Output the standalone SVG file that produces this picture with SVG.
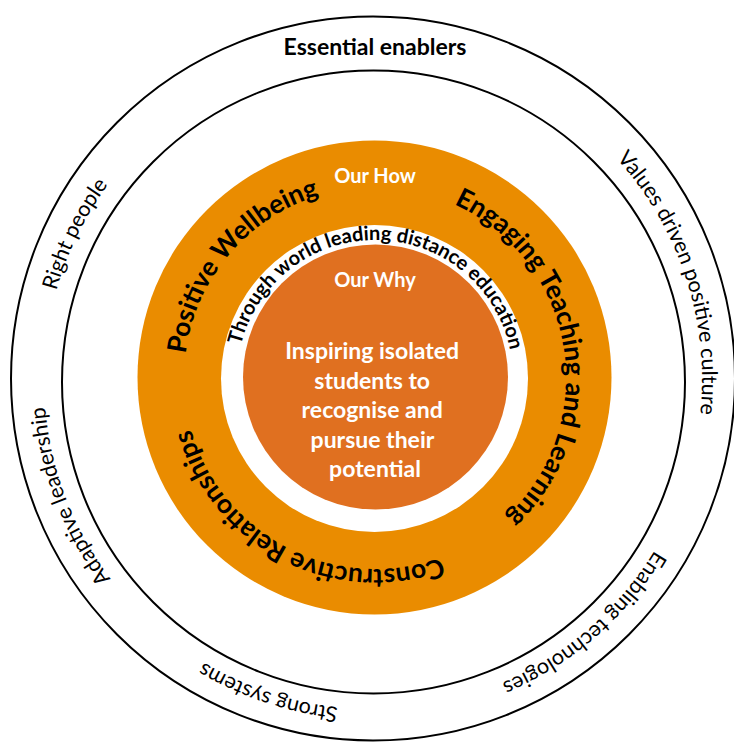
<svg xmlns="http://www.w3.org/2000/svg" xmlns:xlink="http://www.w3.org/1999/xlink" width="734" height="742" viewBox="0 0 734 742">
<defs>
<style>
.ring{fill:none;stroke:#000;stroke-width:2}
.t{font-family:Lato,"Open Sans","Liberation Sans",sans-serif}
.b{font-weight:bold}
.w{fill:#fff}
.k{fill:#000}
.outer{font-size:21.5px}
.bold{font-size:26.5px}
.wr{font-size:20px}
</style>
<path id="pOuter" d="M 44 380 A 329 329 0 1 1 702 380 A 329 329 0 1 1 44 380 A 329 329 0 1 1 702 380 A 329 329 0 1 1 44 380"/>
<path id="pBold" d="M 184 378 A 191 191 0 1 1 566 378 A 191 191 0 1 1 184 378 A 191 191 0 1 1 566 378 A 191 191 0 1 1 184 378"/>
<path id="pWhite" d="M 237 378 A 138 138 0 1 1 513 378 A 138 138 0 1 1 237 378 A 138 138 0 1 1 513 378 A 138 138 0 1 1 237 378"/>
</defs>
<rect width="734" height="742" fill="#fff"/>
<g id="enablers">
<circle class="ring" cx="373" cy="378.5" r="362"/>
<circle class="ring" cx="373.5" cy="382" r="311.5"/>
<text class="t b k" x="375" y="55" font-size="23" text-anchor="middle">Essential enablers</text>
<text class="t k outer" text-anchor="middle"><textPath xlink:href="#pOuter" startOffset="2216.5">Right people</textPath></text>
<text class="t k outer" text-anchor="middle"><textPath xlink:href="#pOuter" startOffset="929.1">Values driven positive culture</textPath></text>
<text class="t k outer" text-anchor="middle"><textPath xlink:href="#pOuter" startOffset="1315">Enabling technologies</textPath></text>
<text class="t k outer" text-anchor="middle"><textPath xlink:href="#pOuter" startOffset="1656.6">Strong systems</textPath></text>
<text class="t k outer" text-anchor="middle"><textPath xlink:href="#pOuter" startOffset="1946.6">Adaptive leadership</textPath></text>
</g>
<g id="how">
<circle cx="374.5" cy="377.5" r="237" fill="#EA8C00"/>
<text class="t b w" x="375" y="183" font-size="20" text-anchor="middle">Our How</text>
<text class="t b k bold" text-anchor="middle"><textPath xlink:href="#pBold" startOffset="1333.4">Positive Wellbeing</textPath></text>
<text class="t b k bold" text-anchor="middle"><textPath xlink:href="#pBold" startOffset="568.4">Engaging Teaching and Learning</textPath></text>
<text class="t b k bold" text-anchor="middle"><textPath xlink:href="#pBold" startOffset="990.1">Constructive Relationships</textPath></text>
</g>
<g id="through">
<circle cx="374.5" cy="378.5" r="153.5" fill="#fff"/>
<text class="t b k wr" text-anchor="middle"><textPath xlink:href="#pWhite" startOffset="219.2">Through world leading distance education</textPath></text>
</g>
<g id="why">
<circle cx="375.5" cy="377" r="132.5" fill="#E07020"/>
<text class="t b w" x="375" y="287" font-size="20" text-anchor="middle">Our Why</text>
<text class="t b w" font-size="23" text-anchor="middle">
<tspan x="375" y="359">Inspiring isolated</tspan>
<tspan x="375" y="388.5">students to</tspan>
<tspan x="375" y="418">recognise and</tspan>
<tspan x="375" y="447.5">pursue their</tspan>
<tspan x="375" y="477">potential</tspan>
</text>
</g>
</svg>
